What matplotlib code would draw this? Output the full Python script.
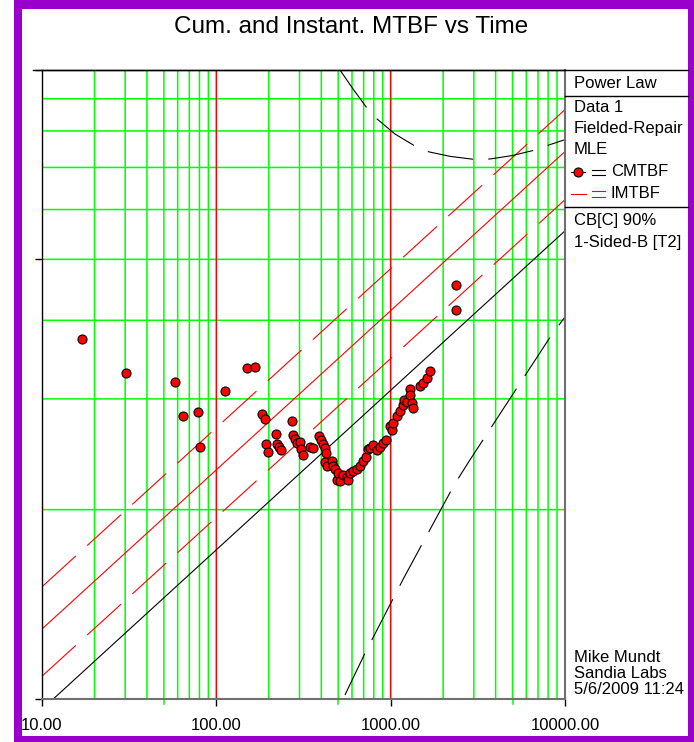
import matplotlib
matplotlib.use("Agg")
import matplotlib.pyplot as plt
from matplotlib.lines import Line2D
from matplotlib.patches import Rectangle
from matplotlib.ticker import NullLocator, NullFormatter
from matplotlib.transforms import blended_transform_factory

plt.rcParams["font.family"] = ["Liberation Sans", "DejaVu Sans"]
plt.rcParams["lines.scale_dashes"] = False

# === Data: cumulative MTBF at each failure time ===
time_pts = [17.0, 30.2, 57.9, 64.1, 78.5, 80.6, 112.1, 150.6, 165.6, 182.1,
            190.2, 192.7, 196.6, 219.9, 221.9, 230.3, 233.4, 270.0, 274.3, 280.9,
            289.1, 302.0, 304.0, 315.4, 344.6, 360.0, 387.0, 398.5, 410.7, 420.1,
            425.7, 420.1, 429.6, 459.0, 468.8, 479.4, 492.2, 500.7, 512.1, 535.0,
            559.5, 571.5, 584.5, 610.5, 638.6, 667.1, 696.7, 717.4, 744.4, 761.3,
            795.2, 831.7, 868.7, 907.5, 940.4, 995.2, 1018, 1036, 1083, 1131,
            1173, 1193, 1236, 1299, 1291, 1320, 1349, 1474, 1527, 1617,
            1671, 2361, 2361]
cmtbf_pts = [3.739, 3.297, 3.192, 2.818, 2.859, 2.515, 3.085, 3.356, 3.372, 2.839,
             2.788, 2.540, 2.468, 2.635, 2.541, 2.518, 2.488, 2.762, 2.633, 2.590,
             2.553, 2.565, 2.501, 2.447, 2.518, 2.503, 2.615, 2.580, 2.539, 2.503,
             2.461, 2.381, 2.346, 2.394, 2.350, 2.325, 2.229, 2.283, 2.222, 2.270,
             2.254, 2.229, 2.285, 2.304, 2.321, 2.346, 2.386, 2.429, 2.497, 2.503,
             2.534, 2.488, 2.518, 2.550, 2.580, 2.716, 2.677, 2.744, 2.818, 2.875,
             2.934, 2.988, 2.969, 3.111, 3.043, 2.958, 2.904, 3.145, 3.180, 3.235,
             3.317, 4.551, 4.161]

# === Power law fit lines (end points) ===
fit_t = [10, 10000]
cmtbf_fit = [0.963, 5.55]
imtbf_fit = [1.292, 7.42]
imtbf_upper = [1.508, 8.65]
imtbf_lower = [1.087, 6.22]

# === CMTBF confidence bounds ===
cb_up_t = [512, 608, 731, 835, 1059, 1379, 1659, 2190, 3006, 3713, 4966, 6730, 8091, 10000]
cb_up = [10.0, 9.33, 8.70, 8.36, 7.91, 7.57, 7.41, 7.29, 7.21, 7.22, 7.31, 7.46, 7.60, 7.75]
cb_lo_t = [547, 713, 1193, 1995, 2338, 2851, 8318, 10000]
cb_lo = [1.015, 1.183, 1.56, 2.03, 2.20, 2.40, 3.78, 4.05]

x_ticks = [10, 100, 1000, 10000]
x_labels = ["10.00", "100.00", "1000.00", "10000.00"]
x_extra_ticks = [50, 500, 5000]

legend_top = ["Power Law"]
legend_mid = ["Data 1", "Fielded-Repair", "MLE"]
legend_bot = ["CB[C] 90%", "1-Sided-B [T2]"]
stamp = ["Mike Mundt", "Sandia Labs", "5/6/2009 11:24"]

# === Figure (work in pixels) ===
W, H = 694, 742
fx = lambda px: px / W
fy = lambda py: 1 - py / H

fig = plt.figure(figsize=(W / 100, H / 100), dpi=100)
fig.patch.set_facecolor("white")
ax = fig.add_axes([fx(42), fy(699), fx(565) - fx(42), fy(70) - fy(699)])

ax.set_xscale("log")
ax.set_yscale("log")
ax.set_xlim(10, 10000)
ax.set_ylim(1, 10)

green = "#00FF00"
dash = (0, (33, 11))
glw = 1.1  # grid line width (about 1.5 px)

# grid lines drawn by hand (green minor, red decades)
for d in [10, 100, 1000]:
    for m in range(2, 10):
        ax.axvline(m * d, color=green, lw=glw, zorder=0, snap=False)
for v in [100, 1000]:
    ax.axvline(v, color="#FF0000", lw=glw, zorder=0.5, snap=False)
for m in range(2, 10):
    ax.axhline(m, color=green, lw=glw, zorder=0, snap=False)

ax.set_xticks(x_ticks)
ax.set_xticklabels(x_labels)
ax.xaxis.set_minor_locator(NullLocator())
ax.set_yticks([1, 5, 10])
ax.yaxis.set_major_formatter(NullFormatter())
ax.yaxis.set_minor_locator(NullLocator())

ax.tick_params(axis="x", which="major", length=5, width=1, pad=9, labelsize=12)
ax.tick_params(axis="y", which="major", length=5, width=1)

trans = blended_transform_factory(ax.transData, ax.transAxes)
for v in x_extra_ticks:
    ax.plot([v, v], [0, -5 / 629], transform=trans, color=green, lw=glw,
            clip_on=False)

for side in ["left", "top"]:
    ax.spines[side].set_color("black")
    ax.spines[side].set_linewidth(1)
for side in ["right", "bottom"]:
    ax.spines[side].set_color("#707070")
    ax.spines[side].set_linewidth(1.5)

# === Curves ===
ax.plot(fit_t, imtbf_upper, color="red", lw=0.8, ls=dash)
ax.plot(fit_t, imtbf_lower, color="red", lw=0.8, ls=dash)
ax.plot(fit_t, imtbf_fit, color="red", lw=0.8)
ax.plot(fit_t, cmtbf_fit, color="black", lw=0.8)
ax.plot(cb_up_t, cb_up, color="black", lw=0.8, ls=dash)
ax.plot(cb_lo_t, cb_lo, color="black", lw=0.8, ls=dash)
ax.plot(time_pts, cmtbf_pts, ls="none", marker="o", ms=6.5,
        mfc="red", mec="black", mew=0.8, zorder=5)

# === Title ===
fig.text(fx(351), fy(27), "Cum. and Instant. MTBF vs Time",
         ha="center", va="center", fontsize=17.5)

# === Legend box at right ===
def hline(x0, x1, y, color="black", lw=1):
    fig.add_artist(Line2D([fx(x0), fx(x1)], [fy(y), fy(y)], color=color, lw=lw))

hline(33, 688, 70)
hline(565, 688, 96)
hline(565, 688, 207)

for txt, y in zip(legend_top, [84]):
    fig.text(fx(574), fy(y), txt, va="center", fontsize=12)
for txt, y in zip(legend_mid, [107, 128, 149]):
    fig.text(fx(574), fy(y), txt, va="center", fontsize=12)
for txt, y in zip(legend_bot, [221, 242]):
    fig.text(fx(574), fy(y), txt, va="center", fontsize=12)

hline(571, 585, 172, lw=0.8)
fig.add_artist(Line2D([fx(577.5)], [fy(172)], marker="o", ms=6.5,
                      mfc="red", mec="black", mew=0.8))
hline(592, 605, 169.5, lw=0.8)
hline(592, 605, 174.5, lw=0.8)
fig.text(fx(611), fy(172), "CMTBF", va="center", fontsize=12)

hline(571, 586, 194, color="red", lw=0.8)
hline(592, 605, 191, color="red", lw=0.8)
hline(592, 605, 197, color="red", lw=0.8)
fig.text(fx(611), fy(194), "IMTBF", va="center", fontsize=12)

for txt, y in zip(stamp, [657, 673, 690]):
    fig.text(fx(574), fy(y), txt, va="center", fontsize=12)

# === Purple frame ===
purple = "#9900CC"
fig.add_artist(Rectangle((fx(14), 0), fx(22) - fx(14), 1, color=purple, lw=0))
fig.add_artist(Rectangle((fx(688), 0), 1 - fx(688), 1, color=purple, lw=0))
fig.add_artist(Rectangle((fx(14), fy(9)), 1 - fx(14), 9 / H, color=purple, lw=0))
fig.add_artist(Rectangle((fx(14), 0), 1 - fx(14), 6 / H, color=purple, lw=0))

plt.savefig("out.png", dpi=100)
